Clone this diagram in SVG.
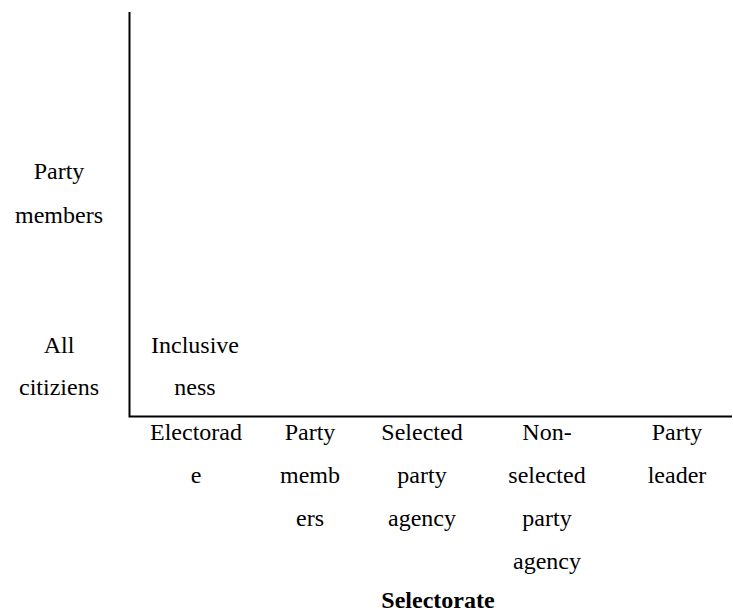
<svg xmlns="http://www.w3.org/2000/svg" width="733" height="613" viewBox="0 0 733 613">
<style>
text{font-family:"Liberation Serif","Times New Roman",serif;font-size:24px;fill:#000;text-anchor:middle}
.b{font-weight:bold}
.ax{stroke:#000;stroke-width:2;fill:none}
</style>
<rect width="733" height="613" fill="#fff"/>
<g id="axes">
<path class="ax" d="M129.5,12 V416.5 H732"/>
</g>
<g id="y-labels">
<text x="59" y="179">Party</text>
<text x="59" y="223">members</text>
<text x="59" y="353">All</text>
<text x="59" y="395">citiziens</text>
</g>
<g id="inclusiveness">
<text x="195" y="353">Inclusive</text>
<text x="195" y="395">ness</text>
</g>
<g id="x-labels">
<text x="196" y="440">Electorad</text>
<text x="196" y="483">e</text>
<text x="310" y="440">Party</text>
<text x="310" y="483">memb</text>
<text x="310" y="526">ers</text>
<text x="422" y="440">Selected</text>
<text x="422" y="483">party</text>
<text x="422" y="526">agency</text>
<text x="547" y="440">Non-</text>
<text x="547" y="483">selected</text>
<text x="547" y="526">party</text>
<text x="547" y="569">agency</text>
<text x="677" y="440">Party</text>
<text x="677" y="483">leader</text>
</g>
<g id="x-title">
<text class="b" x="438" y="608">Selectorate</text>
</g>
</svg>
